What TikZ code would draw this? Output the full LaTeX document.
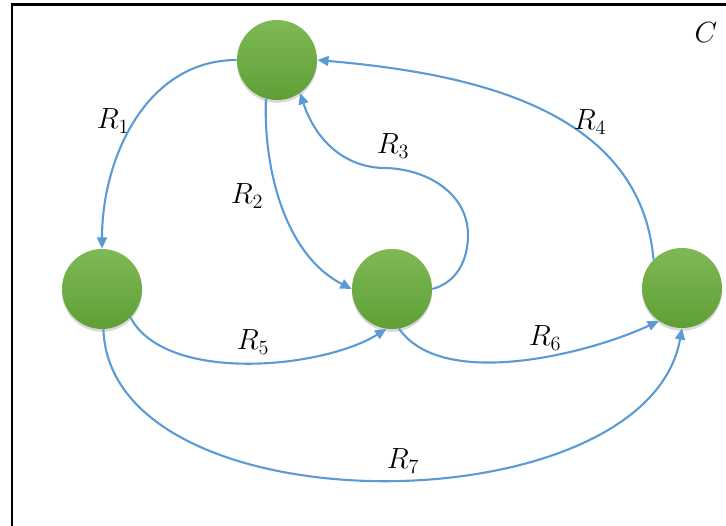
\documentclass[tikz,border=0pt]{standalone}
\usepackage{amsmath,amssymb}
\usepackage{xcolor}
\definecolor{clNodeTop}{HTML}{7EB956}
\definecolor{clNodeBot}{HTML}{5F9F35}
\definecolor{clEdge}{HTML}{5B9BD5}
\usepackage{tikz}
\usetikzlibrary{arrows.meta,shadows}

\begin{document}
\begin{tikzpicture}[x=0.025cm,y=-0.025cm,
    every node/.style={font=\fontsize{22}{26}\selectfont},
    state/.style={circle,minimum size=2cm,inner sep=0pt,top color=clNodeTop,bottom color=clNodeBot,
      draw=none,drop shadow={shadow xshift=0pt,shadow yshift=-2pt,opacity=0.3}},
    rel/.style={draw=clEdge,line width=1.5pt,-{Triangle[length=8pt,width=7pt]}}]
  \useasboundingbox (0,0) rectangle (726,526);
  % frame
  \draw[line width=2.1pt] (12,540) -- (12,4.5) -- (740,4.5);
  \node at (706,33){$C$};
  % states
  \node[state] (T) at (277,60){};
  \node[state] (L) at (102,289){};
  \node[state] (M) at (392,289){};
  \node[state] (R) at (682,288){};
  \coordinate (r3b) at (468,235);
  \coordinate (r3a) at (383,168);
  % relations
  \draw[rel] (T.west) to[out=180,in=90,looseness=1] (L.north);
  \draw[rel] (T.254) to[out=-92,in=153,looseness=0.9] (M.west);
  \draw[rel] (M.east) to[out=15,in=-90] (r3b) to[out=90,in=0] (r3a) to[out=178,in=-72] (T.-55);
  \draw[rel] (R.135) to[out=95,in=-5,looseness=1] (T.east);
  \draw[rel] (L.-45) to[out=-62,in=-148,looseness=0.75] (M.-98);
  \draw[rel] (M.-80) to[out=-55,in=-155,looseness=0.75] (R.-125);
  \draw[rel] (L.-88) to[out=-88,in=-100,looseness=0.9] (R.-90);
  % labels
  \node at (113,121){$R_1$};
  \node at (247,196){$R_2$};
  \node at (393,146){$R_3$};
  \node at (590,122){$R_4$};
  \node at (253,342){$R_5$};
  \node at (545,338){$R_6$};
  \node at (403,461){$R_7$};
\end{tikzpicture}
\end{document}
